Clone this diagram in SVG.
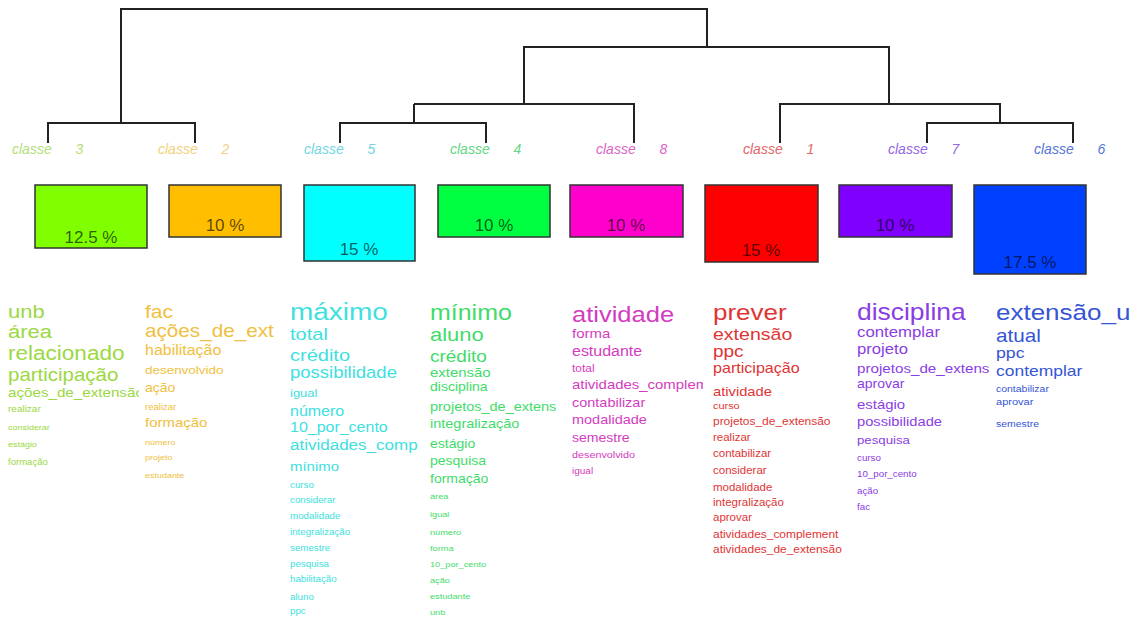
<svg xmlns="http://www.w3.org/2000/svg" width="1133" height="621" viewBox="0 0 1133 621">
<style>
text{font-family:"Liberation Sans",Arial,sans-serif}
.lbl{font-size:14px;font-style:italic}
.box{stroke:#333;stroke-width:1.5}
.pct{font-size:17px;fill:#000;fill-opacity:0.65;text-anchor:middle}
.dend{fill:none;stroke:#222;stroke-width:2}
.c1{fill:#9bd843}.c2{fill:#f0c040}.c3{fill:#40dfe0}.c4{fill:#3fdc6a}
.c5{fill:#d43cc0}.c6{fill:#e03434}.c7{fill:#8a3de4}.c8{fill:#3555d4}
</style>
<defs>
<clipPath id="k1"><rect x="0" y="290" width="139" height="331"/></clipPath>
<clipPath id="k3"><rect x="285" y="290" width="136" height="331"/></clipPath>
<clipPath id="k5"><rect x="567" y="290" width="136" height="331"/></clipPath>
</defs>
<rect width="1133" height="621" fill="#fff"/>
<g id="connectors">
<path class="dend" d="M121 123V9H707V47M48 143V123H195V143M524 104V47H889V104M414 104H634V143M414 104V123M340 143V123H486V143M780 143V104H1000V123M927 143V123H1073V143"/>
</g>
<g id="classe3">
<text class="lbl" x="12" y="154" fill="#b3e07a">classe <tspan dx="20">3</tspan></text>
<rect class="box" x="35" y="185" width="112" height="63" fill="#80ff00"/>
<text class="pct" x="91" y="243">12.5 %</text>
<g clip-path="url(#k1)">
<g class="c1" transform="translate(8 0) scale(1.15 1)">
<text x="0" y="318" font-size="19.1">unb</text>
<text x="0" y="338" font-size="19.1">área</text>
<text x="0" y="360" font-size="19.6">relacionado</text>
<text x="0" y="381" font-size="17.8">participação</text>
<text x="0" y="397" font-size="13.2">ações_de_extensão</text>
<text x="0" y="412" font-size="8.7">realizar</text>
<text x="0" y="430" font-size="7.8">considerar</text>
<text x="0" y="447" font-size="7.8">estágio</text>
<text x="0" y="465" font-size="8.3">formação</text>
</g>
</g>
</g>
<g id="classe2">
<text class="lbl" x="158" y="154" fill="#f1d27e">classe <tspan dx="20">2</tspan></text>
<rect class="box" x="169" y="185" width="112" height="52" fill="#ffbf00"/>
<text class="pct" x="225" y="231">10 %</text>
<g class="c2" transform="translate(145 0) scale(1.15 1)">
<text x="0" y="318" font-size="18.3">fac</text>
<text x="0" y="337" font-size="18">ações_de_ext</text>
<text x="0" y="355" font-size="13.9">habilitação</text>
<text x="0" y="374" font-size="11.7">desenvolvido</text>
<text x="0" y="392" font-size="12.2">ação</text>
<text x="0" y="410" font-size="8.3">realizar</text>
<text x="0" y="427" font-size="13">formação</text>
<text x="0" y="445" font-size="7.8">número</text>
<text x="0" y="460" font-size="7.8">projeto</text>
<text x="0" y="478" font-size="7.8">estudante</text>
</g>
</g>
<g id="classe5">
<text class="lbl" x="304" y="154" fill="#72d6e2">classe <tspan dx="20">5</tspan></text>
<rect class="box" x="304" y="185" width="111" height="76" fill="#00ffff"/>
<text class="pct" x="359" y="255">15 %</text>
<g clip-path="url(#k3)">
<g class="c3" transform="translate(290 0) scale(1.15 1)">
<text x="0" y="320" font-size="24.3">máximo</text>
<text x="0" y="340" font-size="17.4">total</text>
<text x="0" y="361" font-size="17.4">crédito</text>
<text x="0" y="378" font-size="16.1">possibilidade</text>
<text x="0" y="397" font-size="11.3">igual</text>
<text x="0" y="416" font-size="13.9">número</text>
<text x="0" y="432" font-size="13.9">10_por_cento</text>
<text x="0" y="450" font-size="14.8">atividades_comp</text>
<text x="0" y="471" font-size="13">mínimo</text>
<text x="0" y="488" font-size="8.5">curso</text>
<text x="0" y="503" font-size="8.5">considerar</text>
<text x="0" y="519" font-size="8.5">modalidade</text>
<text x="0" y="535" font-size="8.5">integralização</text>
<text x="0" y="551" font-size="8.5">semestre</text>
<text x="0" y="567" font-size="8.5">pesquisa</text>
<text x="0" y="582" font-size="8.5">habilitação</text>
<text x="0" y="600" font-size="8.5">aluno</text>
<text x="0" y="614" font-size="8.5">ppc</text>
</g>
</g>
</g>
<g id="classe4">
<text class="lbl" x="450" y="154" fill="#62d784">classe <tspan dx="20">4</tspan></text>
<rect class="box" x="438" y="185" width="112" height="52" fill="#00ff40"/>
<text class="pct" x="494" y="231">10 %</text>
<g class="c4" transform="translate(430 0) scale(1.15 1)">
<text x="0" y="320" font-size="21.7">mínimo</text>
<text x="0" y="341" font-size="19.1">aluno</text>
<text x="0" y="362" font-size="16.5">crédito</text>
<text x="0" y="377" font-size="13">extensão</text>
<text x="0" y="391" font-size="12.2">disciplina</text>
<text x="0" y="411" font-size="12.6">projetos_de_extens</text>
<text x="0" y="428" font-size="12.6">integralização</text>
<text x="0" y="448" font-size="12.2">estágio</text>
<text x="0" y="465" font-size="12.2">pesquisa</text>
<text x="0" y="483" font-size="12.2">formação</text>
<text x="0" y="499" font-size="8">área</text>
<text x="0" y="517" font-size="8">igual</text>
<text x="0" y="535" font-size="8">número</text>
<text x="0" y="551" font-size="8">forma</text>
<text x="0" y="567" font-size="8">10_por_cento</text>
<text x="0" y="583" font-size="8">ação</text>
<text x="0" y="599" font-size="8">estudante</text>
<text x="0" y="615" font-size="8">unb</text>
</g>
</g>
<g id="classe8">
<text class="lbl" x="596" y="154" fill="#d865c8">classe <tspan dx="20">8</tspan></text>
<rect class="box" x="570" y="185" width="113" height="52" fill="#ff00cc"/>
<text class="pct" x="626" y="231">10 %</text>
<g clip-path="url(#k5)">
<g class="c5" transform="translate(572 0) scale(1.15 1)">
<text x="0" y="322" font-size="22.2">atividade</text>
<text x="0" y="338" font-size="13">forma</text>
<text x="0" y="356" font-size="13.9">estudante</text>
<text x="0" y="372" font-size="10.4">total</text>
<text x="0" y="389" font-size="13">atividades_complementares</text>
<text x="0" y="407" font-size="12.6">contabilizar</text>
<text x="0" y="424" font-size="12.6">modalidade</text>
<text x="0" y="442" font-size="12.2">semestre</text>
<text x="0" y="458" font-size="9.4">desenvolvido</text>
<text x="0" y="474" font-size="8.7">igual</text>
</g>
</g>
</g>
<g id="classe1">
<text class="lbl" x="743" y="154" fill="#e26868">classe <tspan dx="20">1</tspan></text>
<rect class="box" x="705" y="185" width="113" height="77" fill="#ff0000"/>
<text class="pct" x="761" y="256">15 %</text>
<g class="c6" transform="translate(713 0) scale(1.15 1)">
<text x="0" y="320" font-size="22.6">prever</text>
<text x="0" y="340" font-size="17">extensão</text>
<text x="0" y="357" font-size="16.5">ppc</text>
<text x="0" y="373" font-size="14">participação</text>
<text x="0" y="396" font-size="12.8">atividade</text>
<text x="0" y="409" font-size="9.5">curso</text>
<text x="0" y="425" font-size="10.4">projetos_de_extensão</text>
<text x="0" y="441" font-size="10">realizar</text>
<text x="0" y="457" font-size="10">contabilizar</text>
<text x="0" y="474" font-size="10">considerar</text>
<text x="0" y="491" font-size="10">modalidade</text>
<text x="0" y="506" font-size="10">integralização</text>
<text x="0" y="521" font-size="10">aprovar</text>
<text x="0" y="538" font-size="10.4">atividades_complement</text>
<text x="0" y="553" font-size="10.4">atividades_de_extensão</text>
</g>
</g>
<g id="classe7">
<text class="lbl" x="888" y="154" fill="#9566e4">classe <tspan dx="20">7</tspan></text>
<rect class="box" x="839" y="185" width="113" height="52" fill="#8000ff"/>
<text class="pct" x="895" y="231">10 %</text>
<g class="c7" transform="translate(857 0) scale(1.15 1)">
<text x="0" y="320" font-size="23">disciplina</text>
<text x="0" y="337" font-size="14.6">contemplar</text>
<text x="0" y="354" font-size="14.5">projeto</text>
<text x="0" y="373" font-size="13.2">projetos_de_extens</text>
<text x="0" y="388" font-size="12.2">aprovar</text>
<text x="0" y="409" font-size="13">estágio</text>
<text x="0" y="426" font-size="12.8">possibilidade</text>
<text x="0" y="444" font-size="11.5">pesquisa</text>
<text x="0" y="461" font-size="8.5">curso</text>
<text x="0" y="477" font-size="8.5">10_por_cento</text>
<text x="0" y="494" font-size="8.5">ação</text>
<text x="0" y="510" font-size="8.5">fac</text>
</g>
</g>
<g id="classe6">
<text class="lbl" x="1034" y="154" fill="#5675d8">classe <tspan dx="20">6</tspan></text>
<rect class="box" x="974" y="185" width="112" height="89" fill="#0040ff"/>
<text class="pct" x="1030" y="268">17.5 %</text>
<g class="c8" transform="translate(996 0) scale(1.15 1)">
<text x="0" y="320" font-size="22.6">extensão_u</text>
<text x="0" y="342" font-size="18">atual</text>
<text x="0" y="358" font-size="15.4">ppc</text>
<text x="0" y="376" font-size="15.2">contemplar</text>
<text x="0" y="392" font-size="9.1">contabilizar</text>
<text x="0" y="405" font-size="9.6">aprovar</text>
<text x="0" y="427" font-size="9.1">semestre</text>
</g>
</g>
</svg>
